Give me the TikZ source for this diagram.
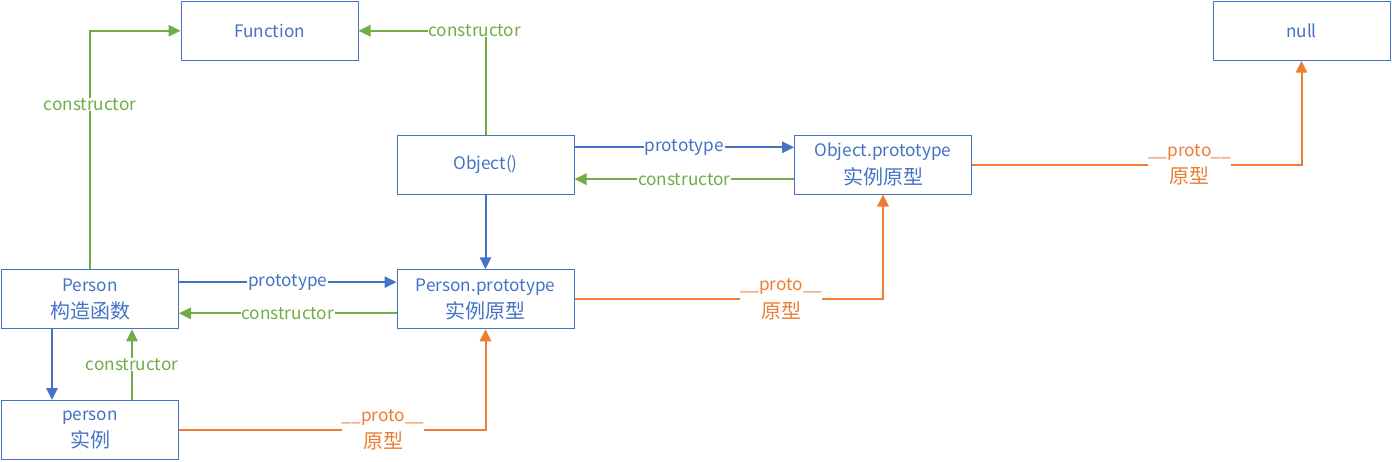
\documentclass[tikz,border=0pt]{standalone}
\usepackage{fontspec}
\newfontfamily\cjk{Noto Sans CJK SC}
\usetikzlibrary{arrows.meta}
\definecolor{oblue}{HTML}{4472C4}
\definecolor{ogreen}{HTML}{70AD47}
\definecolor{oorange}{HTML}{ED7D31}
\newcommand\zh[1]{{\fontsize{15}{20.5}\selectfont #1}}
\tikzset{
  box/.style={draw=oblue, line width=0.75pt, text=oblue, minimum width=132.75pt,
    minimum height=44.25pt, inner sep=0pt, align=center,
    font=\cjk\fontsize{12.9}{20.5}\selectfont},
  lbl/.style={fill=white, inner sep=0.5pt, align=center,
    font=\cjk\fontsize{12.9}{20.5}\selectfont},
  bluearrow/.style={draw=oblue, line width=1.5pt, -{Triangle[length=9pt,width=8.5pt]}},
  greenarrow/.style={draw=ogreen, line width=1.5pt, -{Triangle[length=9pt,width=8.5pt]}},
  orangearrow/.style={draw=oorange, line width=1.5pt, -{Triangle[length=9pt,width=8.5pt]}},
}

\begin{document}
\begin{tikzpicture}[x=0.75pt,y=0.75pt,yscale=-1,xscale=1]
\useasboundingbox (0,0) rectangle (1392,461);

% Box Nodes
\node (fn) [box] at (269.5,30.7) {Function};
\node (nul) [box] at (1301.5,30.7) {null};
\node (obj) [box] at (485.5,164.5) {Object()};
\node (objproto) [box] at (883,164.5) {Object.prototype\\\zh{实例原型}};
\node (per) [box] at (90,299.3) {Person\\\zh{构造函数}};
\node (perproto) [box] at (485.5,299.3) {Person.prototype\\\zh{实例原型}};
\node (inst) [box] at (90,430) {person\\\zh{实例}};

% constructor to Function
\draw [greenarrow] (per.north) |- node [lbl, pos=0.345, text=ogreen] {constructor} (fn.west);
\draw [greenarrow] (obj.north) |- node [lbl, pos=0.5, xshift=-8pt, text=ogreen] {constructor} (fn.east);

% Object() row
\draw [bluearrow] (obj.south) -- (perproto.north);
\draw [bluearrow] ([yshift=-12.9pt]obj.east) -- node [lbl, text=oblue] {prototype} ([yshift=-12.9pt]objproto.west);
\draw [greenarrow] ([yshift=11pt]objproto.west) -- node [lbl, text=ogreen] {constructor} ([yshift=11pt]obj.east);

% Person row
\draw [bluearrow] ([yshift=-12.9pt]per.east) -- node [lbl, text=oblue] {prototype} ([yshift=-12.9pt]perproto.west);
\draw [greenarrow] ([yshift=10.5pt]perproto.west) -- node [lbl, text=ogreen] {constructor} ([yshift=10.5pt]per.east);

% Person and person
\draw [bluearrow] ([xshift=-28.5pt]per.south) -- ([xshift=-28.5pt]inst.north);
\draw [greenarrow] ([xshift=31.5pt]inst.north) -- node [lbl, text=ogreen] {constructor} ([xshift=31.5pt]per.south);

% __proto__ chain
\draw [orangearrow] (inst.east) -| node [lbl, pos=0.333, inner sep=0pt, text=oorange] {\_\_proto\_\_\\\zh{原型}} (perproto.south);
\draw [orangearrow] (perproto.east) -| node [lbl, pos=0.335, inner sep=0pt, text=oorange] {\_\_proto\_\_\\\zh{原型}} (objproto.south);
\draw [orangearrow] (objproto.east) -| node [lbl, pos=0.33, inner sep=0pt, text=oorange] {\_\_proto\_\_\\\zh{原型}} (nul.south);

\end{tikzpicture}
\end{document}
